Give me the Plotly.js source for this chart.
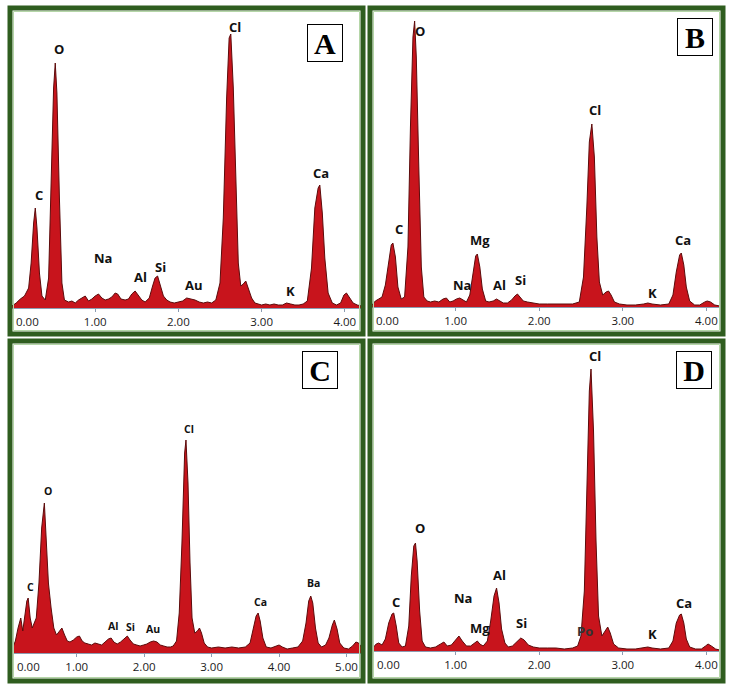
<!DOCTYPE html>
<html>
<head>
<meta charset="utf-8">
<script src="https://cdn.plot.ly/plotly-3.0.1.min.js"></script>
<style>html,body{margin:0;padding:0;background:#fff}#chart{width:733px;height:686px}</style>
</head>
<body>
<div id="chart"></div>
<script>
// ---------- Data (energy in keV, intensity in a.u.) ----------
const energyA = [0.00,0.05,0.10,0.15,0.20,0.23,0.26,0.28,0.30,0.33,0.36,0.40,0.44,0.47,0.50,0.52,0.54,0.57,0.60,0.63,0.68,0.72,0.76,0.80,0.85,0.88,0.92,0.96,1.00,1.04,1.08,1.12,1.16,1.20,1.24,1.27,1.31,1.36,1.40,1.44,1.48,1.52,1.56,1.60,1.65,1.69,1.72,1.75,1.78,1.82,1.86,1.90,1.95,2.00,2.05,2.10,2.15,2.20,2.25,2.30,2.35,2.40,2.45,2.50,2.54,2.58,2.61,2.63,2.66,2.69,2.72,2.75,2.78,2.81,2.84,2.88,2.92,2.96,3.00,3.05,3.10,3.15,3.20,3.25,3.30,3.35,3.40,3.45,3.50,3.55,3.60,3.64,3.68,3.70,3.73,3.76,3.80,3.85,3.90,3.95,3.99,4.02,4.05,4.10,4.15,4.20];
const countsA = [2,5,9,12,20,45,85,100,80,35,12,8,30,120,220,245,215,110,25,8,6,7,5,8,11,12,7,9,12,14,10,8,9,11,15,14,9,8,9,14,17,13,8,6,10,22,30,32,24,12,8,6,5,6,7,10,9,8,6,5,6,5,8,25,90,210,270,274,220,120,45,22,24,27,20,10,5,4,3,4,3,4,3,3,5,4,3,3,4,7,40,100,120,123,95,50,15,5,3,5,13,15,11,5,3,2];

const energyB = [0.00,0.04,0.08,0.12,0.16,0.20,0.23,0.25,0.28,0.31,0.35,0.39,0.43,0.46,0.49,0.51,0.53,0.56,0.59,0.62,0.66,0.70,0.75,0.80,0.85,0.89,0.93,0.97,1.01,1.05,1.09,1.13,1.17,1.21,1.24,1.26,1.29,1.32,1.36,1.40,1.45,1.49,1.53,1.57,1.62,1.67,1.71,1.74,1.77,1.81,1.86,1.92,2.00,2.10,2.20,2.30,2.40,2.48,2.53,2.57,2.60,2.63,2.66,2.69,2.72,2.76,2.80,2.83,2.86,2.90,2.96,3.05,3.15,3.25,3.30,3.35,3.45,3.55,3.60,3.64,3.68,3.70,3.73,3.76,3.80,3.86,3.92,3.98,4.01,4.05,4.10,4.16];
const countsB = [2,6,8,10,22,48,62,64,50,20,8,10,60,180,270,286,250,140,40,10,6,5,6,5,8,9,5,6,8,9,7,5,12,35,51,53,40,18,6,5,6,8,6,4,4,7,11,13,10,6,5,4,3,3,3,3,3,5,30,100,165,183,150,70,25,12,15,16,12,5,3,2,2,3,4,3,2,3,12,35,52,54,42,20,6,2,2,5,6,5,2,1];

const energyC = [0.05,0.09,0.13,0.17,0.20,0.23,0.26,0.28,0.31,0.34,0.37,0.40,0.44,0.48,0.52,0.55,0.58,0.62,0.66,0.70,0.74,0.78,0.82,0.86,0.90,0.95,1.00,1.04,1.08,1.12,1.17,1.22,1.27,1.32,1.37,1.42,1.47,1.51,1.55,1.60,1.65,1.70,1.75,1.79,1.84,1.89,1.94,1.99,2.04,2.09,2.14,2.19,2.24,2.29,2.34,2.39,2.43,2.48,2.52,2.56,2.60,2.62,2.65,2.68,2.71,2.75,2.79,2.82,2.85,2.89,2.94,3.00,3.10,3.20,3.30,3.40,3.50,3.57,3.62,3.66,3.69,3.72,3.76,3.81,3.88,3.95,4.00,4.05,4.12,4.20,4.28,4.35,4.40,4.44,4.47,4.50,4.54,4.58,4.63,4.69,4.74,4.79,4.82,4.86,4.90,4.96,5.03,5.09,5.14,5.18,5.23];
const countsC = [5,12,25,35,22,35,52,55,35,25,30,35,70,125,150,110,70,45,25,18,22,25,18,12,11,13,16,17,12,10,9,8,10,9,8,11,14,15,11,9,11,14,17,13,9,8,7,8,9,11,12,11,8,7,6,6,7,12,40,110,200,213,170,90,35,20,22,25,20,10,6,5,6,5,6,5,6,10,25,37,40,32,15,6,5,7,8,6,4,5,6,12,30,52,57,50,25,10,6,8,15,28,33,24,10,5,4,7,11,10,5];

const energyD = [0.01,0.05,0.08,0.12,0.16,0.20,0.24,0.26,0.29,0.32,0.36,0.40,0.44,0.47,0.50,0.52,0.54,0.57,0.60,0.64,0.70,0.76,0.82,0.86,0.90,0.95,1.00,1.04,1.08,1.13,1.18,1.23,1.26,1.29,1.33,1.38,1.42,1.46,1.49,1.52,1.55,1.59,1.63,1.68,1.73,1.78,1.82,1.87,1.93,2.00,2.10,2.20,2.30,2.40,2.46,2.50,2.54,2.57,2.60,2.62,2.65,2.68,2.71,2.75,2.79,2.82,2.85,2.89,2.95,3.05,3.15,3.25,3.30,3.35,3.45,3.55,3.60,3.64,3.68,3.70,3.73,3.76,3.80,3.87,3.94,3.99,4.02,4.06,4.11,4.16];
const countsD = [3,7,8,6,12,28,37,38,25,8,4,5,25,75,105,108,90,40,10,4,3,4,7,9,5,6,11,15,10,5,5,8,10,7,5,10,30,55,63,48,22,8,4,5,9,13,11,6,4,3,3,3,2,3,5,15,60,170,260,282,220,110,35,15,20,24,18,7,3,2,2,3,4,3,2,3,10,28,36,37,28,12,4,2,2,5,7,5,2,1];

// element labels (name, energy, height)
const elemA = ['C','O','Na','Al','Si','Au','Cl','K','Ca'];
const elemXA = [0.33,0.56,1.09,1.54,1.79,2.19,2.68,3.35,3.71];
const elemYA = [113,259,50,31,41,23,281,17,135];

const elemB = ['C','O','Na','Mg','Al','Si','Cl','K','Ca'];
const elemXB = [0.32,0.57,1.08,1.29,1.53,1.78,2.67,3.35,3.72];
const elemYB = [78,276,22,67,22,27,197,14,67];

const elemC = ['C','O','Al','Si','Au','Cl','Ca','Ba'];
const elemXC = [0.32,0.57,1.54,1.79,2.13,2.67,3.73,4.51];
const elemYC = [66,162,27,26,24,224,51,70];

const elemD = ['C','O','Na','Mg','Al','Si','Po','Cl','K','Ca'];
const elemXD = [0.29,0.57,1.09,1.29,1.53,1.79,2.55,2.67,3.36,3.73];
const elemYD = [49,123,53,23,76,28,20,295,17,48];

const ticksABD = [1,2,3,4];
const tickTextABD = ['1.00','2.00','3.00','4.00'];
const ticksC = [1,2,3,4,5];
const tickTextC = ['1.00','2.00','3.00','4.00','5.00'];
const panelLetters = ['A','B','C','D'];

// ---------- Layout helpers ----------
const W = 733, H = 686;
const px = v => v / W;
const py = v => 1 - v / H;

const panels = [
  {id:'', x:energyA, y:countsA, ex:elemXA, ey:elemYA, et:elemA, fs:13,
   dx:[12,361], dy:[308,11], xr:[0,4.195], yr:[0,297], tv:ticksABD, tt:tickTextABD,
   frame:[10,8,363,334], box:[325,43]},
  {id:'2', x:energyB, y:countsB, ex:elemXB, ey:elemYB, et:elemB, fs:13,
   dx:[372,720], dy:[307,11], xr:[0,4.163], yr:[0,296], tv:ticksABD, tt:tickTextABD,
   frame:[370,8,723,334], box:[695,37]},
  {id:'3', x:energyC, y:countsC, ex:elemXC, ey:elemYC, et:elemC, fs:10.5,
   dx:[13,362], dy:[653,345], xr:[0.055,5.23], yr:[0,308], tv:ticksC, tt:tickTextC,
   frame:[10,341,363,681], box:[320,370]},
  {id:'4', x:energyD, y:countsD, ex:elemXD, ey:elemYD, et:elemD, fs:13,
   dx:[373,720], dy:[651,345], xr:[0.012,4.163], yr:[0,306], tv:ticksABD, tt:tickTextABD,
   frame:[370,341,723,681], box:[694,370]}
];

const data = [];
const layout = {
  width: W, height: H,
  margin: {l:0, r:0, t:0, b:0},
  paper_bgcolor: '#ffffff', plot_bgcolor: '#ffffff',
  showlegend: false,
  annotations: [], shapes: []
};

panels.forEach((p, i) => {
  const xa = 'x' + p.id, ya = 'y' + p.id;
  data.push({
    type: 'scatter', mode: 'lines', x: p.x, y: p.y,
    xaxis: xa, yaxis: ya,
    fill: 'tozeroy', fillcolor: '#c8141c',
    line: {color: '#5c0b0b', width: 1},
    hoverinfo: 'skip'
  });
  layout['xaxis' + p.id] = {
    domain: [px(p.dx[0]), px(p.dx[1])], range: p.xr, anchor: ya,
    showline: true, linecolor: '#8c9cb2', linewidth: 1,
    ticks: 'outside', ticklen: 3, tickcolor: '#8c9cb2',
    tickvals: p.tv, ticktext: p.tt,
    tickfont: {family: 'Open Sans, sans-serif', size: 11.5, color: '#1a1a1a'},
    showgrid: false, zeroline: false, fixedrange: true
  };
  layout['yaxis' + p.id] = {
    domain: [py(p.dy[0]), py(p.dy[1])], range: p.yr, anchor: xa,
    visible: false, showgrid: false, zeroline: false, fixedrange: true
  };
  // "0.00" tick label at the left end
  layout.annotations.push({
    text: '0.00', xref: xa, yref: ya + ' domain', x: p.xr[0], y: 0,
    xanchor: 'left', yanchor: 'top', xshift: 2, yshift: -4, showarrow: false,
    font: {family: 'Open Sans, sans-serif', size: 11.5, color: '#1a1a1a'}
  });
  // element labels
  p.et.forEach((t, k) => {
    layout.annotations.push({
      text: '<b>' + t + '</b>', xref: xa, yref: ya, x: p.ex[k], y: p.ey[k],
      xanchor: 'center', yanchor: 'middle', showarrow: false,
      font: {family: 'Open Sans, sans-serif', size: p.fs, color: t === 'Po' ? '#333' : '#111'}
    });
  });
  // panel letter box
  layout.annotations.push({
    text: '<b>' + panelLetters[i] + '</b>', xref: 'paper', yref: 'paper',
    x: px(p.box[0]), y: py(p.box[1]), xanchor: 'center', yanchor: 'middle',
    showarrow: false, width: 32, height: 34, borderpad: 1,
    bordercolor: '#000', borderwidth: 1, bgcolor: '#fff',
    font: {family: 'Liberation Serif, serif', size: 30, color: '#000'}
  });
  // green frames
  const f = p.frame;
  layout.shapes.push({
    type: 'rect', xref: 'paper', yref: 'paper',
    x0: px(f[0]), x1: px(f[2]), y0: py(f[3]), y1: py(f[1]),
    line: {color: '#2f5d1f', width: 5}, fillcolor: 'rgba(0,0,0,0)'
  });
  layout.shapes.push({
    type: 'rect', xref: 'paper', yref: 'paper',
    x0: px(f[0] + 3.5), x1: px(f[2] - 3.5), y0: py(f[3] - 3.5), y1: py(f[1] + 3.5),
    line: {color: '#b5d6a8', width: 1}, fillcolor: 'rgba(0,0,0,0)'
  });
});

Plotly.newPlot('chart', data, layout, {displayModeBar: false, staticPlot: true});
</script>
</body>
</html>
